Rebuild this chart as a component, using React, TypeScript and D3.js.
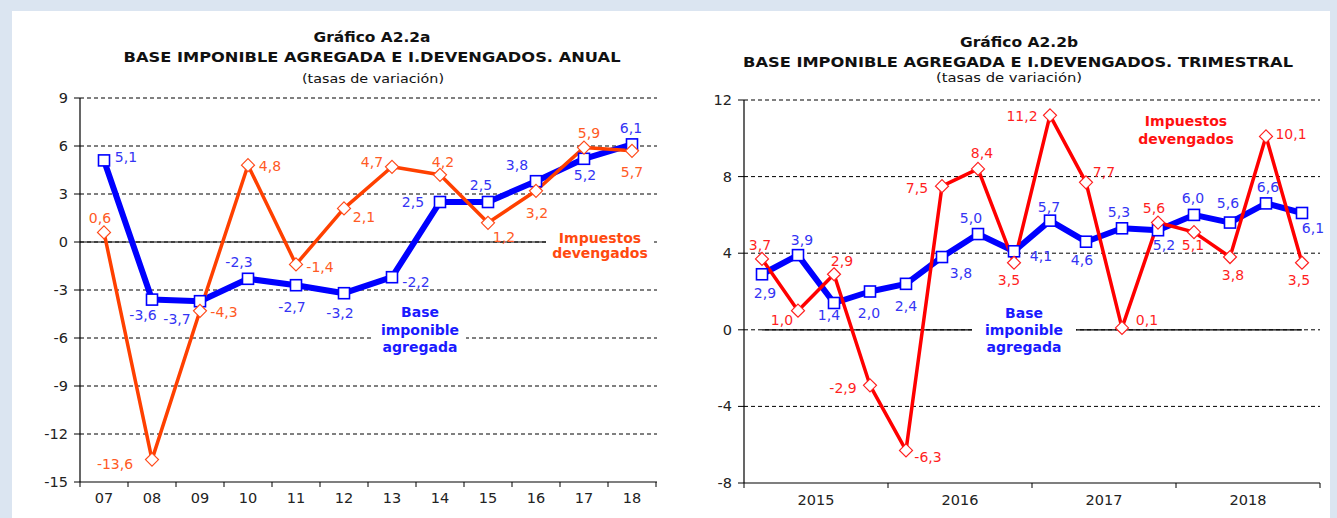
import React from 'react';
import * as d3 from 'd3';

// ---------- DATA ----------
const annualCats = ['07', '08', '09', '10', '11', '12', '13', '14', '15', '16', '17', '18'];
const annualBase = [5.1, -3.6, -3.7, -2.3, -2.7, -3.2, -2.2, 2.5, 2.5, 3.8, 5.2, 6.1];
const annualImp = [0.6, -13.6, -4.3, 4.8, -1.4, 2.1, 4.7, 4.2, 1.2, 3.2, 5.9, 5.7];
const annualTicks = [9, 6, 3, 0, -3, -6, -9, -12, -15];

const quarterYears = ['2015', '2016', '2017', '2018'];
const quarterBase = [2.9, 3.9, 1.4, 2.0, 2.4, 3.8, 5.0, 4.1, 5.7, 4.6, 5.3, 5.2, 6.0, 5.6, 6.6, 6.1];
const quarterImp = [3.7, 1.0, 2.9, -2.9, -6.3, 7.5, 8.4, 3.5, 11.2, 7.7, 0.1, 5.6, 5.1, 3.8, 10.1, 3.5];
const quarterTicks = [12, 8, 4, 0, -4, -8];

// label offsets (relative to each point) for the value labels
const annualBaseLbl = [[22, -3], [-9, 15], [-23, 18], [-9, -17], [-4, 22], [-4, 20], [24, 5], [-27, 0], [-7, -17], [-19, -16], [1, 16], [-1, -16]];
const annualImpLbl = [[-4, -14], [-37, 4], [24, 1], [22, 1], [24, 3], [20, 9], [-20, -5], [3, -13], [16, 14], [1, 22], [5, -15], [0, 21]];
const quarterBaseLbl = [[3, 19], [4, -15], [-5, 12], [-1, 21], [0, 22], [19, 16], [-7, -16], [27, 5], [-1, -14], [-4, 18], [-3, -16], [6, 15], [-1, -17], [-2, -20], [2, -16], [11, 15]];
const quarterImpLbl = [[-2, -14], [-16, 9], [8, -13], [-27, 3], [22, 7], [-25, 2], [4, -16], [-5, 17], [-28, 1], [18, -10], [25, -8], [-4, -15], [-1, 13], [3, 18], [25, -2], [-3, 17]];

const quarterCats = quarterYears.flatMap((y) => ['T1', 'T2', 'T3', 'T4'].map((q) => `${y}${q}`));

const FONT = "'DejaVu Sans', Verdana, sans-serif";
const fmt = (v: number) => v.toFixed(1).replace('.', ',');

function App() {
  // ---------- LEFT (annual) ----------
  const xL = d3.scaleBand<string>().domain(annualCats).range([80, 656]);
  const yL = d3.scaleLinear().domain([-15, 9]).range([482, 98]);
  // ---------- RIGHT (quarterly) ----------
  const xR = d3.scaleBand<string>().domain(quarterCats).range([744, 1320]);
  const xRY = d3.scaleBand<string>().domain(quarterYears).range([744, 1320]);
  const yR = d3.scaleLinear().domain([-8, 12]).range([483, 100]);

  const blue = '#0000ff';
  const blueText = '#3434f4';

  const renderSeries = (
    cats: string[], xs: d3.ScaleBand<string>, y: d3.ScaleLinear<number, number>,
    values: number[], lbl: number[][], color: string, textColor: string,
    width: number, marker: 'square' | 'diamond', part: 'line' | 'markers' | 'labels', key: string
  ) => {
    const cx = (i: number) => (xs(cats[i]) as number) + xs.bandwidth() / 2;
    if (part === 'line') {
      const line = d3.line<number>().x((_, i) => cx(i)).y((v) => y(v));
      return <path key={key} d={line(values) || ''} fill="none" stroke={color} strokeWidth={width} strokeLinejoin="round" />;
    }
    if (part === 'markers') {
      return (
        <g key={key}>
          {values.map((v, i) => {
            const px = cx(i), py = y(v);
            if (marker === 'square') {
              return <rect key={i} x={px - 5.5} y={py - 5.5} width={11} height={11} fill="#fff" stroke={color} strokeWidth={1.6} />;
            }
            const s = 6.5;
            return <path key={i} d={`M${px},${py - s}L${px + s},${py}L${px},${py + s}L${px - s},${py}Z`} fill="#fff" stroke={color} strokeWidth={1.2} />;
          })}
        </g>
      );
    }
    return (
      <g key={key} fontFamily={FONT} fontSize={14} fill={textColor}>
        {values.map((v, i) => (
          <text key={i} x={cx(i) + lbl[i][0]} y={y(v) + lbl[i][1]} textAnchor="middle" dominantBaseline="central">
            {fmt(v)}
          </text>
        ))}
      </g>
    );
  };

  const yAxis = (y: d3.ScaleLinear<number, number>, ticks: number[], ax: number, right: number, key: string) => (
    <g key={key}>
      {ticks.map((t) => (
        <g key={t}>
          {t !== ticks[ticks.length - 1] && (
            <line x1={ax} x2={right} y1={y(t)} y2={y(t)} stroke="#000" strokeWidth={1} strokeDasharray="4,3" />
          )}
          <line x1={ax - 6} x2={ax} y1={y(t)} y2={y(t)} stroke="#000" strokeWidth={1} />
          <text x={ax - 12} y={y(t)} textAnchor="end" dominantBaseline="central" fontFamily={FONT} fontSize={14.5} fill="#222">
            {t}
          </text>
        </g>
      ))}
    </g>
  );

  const leftBottom = yL(-15);
  const rightBottom = yR(-8);

  return (
    <div style={{ position: 'absolute', left: 0, top: 0 }}>
      <svg width={1337} height={518} style={{ display: 'block' }}>
        <rect x={0} y={0} width={1337} height={518} fill="#dbe5f1" />
        <rect x={12} y={11} width={1318} height={507} fill="#ffffff" />

        {/* ---------- LEFT TITLES ---------- */}
        <g fontFamily={FONT} fill="#111" textAnchor="middle">
          <text x={372} y={42} fontWeight="bold" fontSize={14} textLength={117} lengthAdjust="spacingAndGlyphs">Gráfico A2.2a</text>
          <text x={372} y={62} fontWeight="bold" fontSize={14} textLength={497} lengthAdjust="spacingAndGlyphs">BASE IMPONIBLE AGREGADA E I.DEVENGADOS. ANUAL</text>
          <text x={373} y={83} fontSize={13} textLength={142} lengthAdjust="spacingAndGlyphs">(tasas de variación)</text>
        </g>

        {/* ---------- LEFT CHART ---------- */}
        {yAxis(yL, annualTicks, 80, 657, 'yl')}
        <line x1={80} x2={632} y1={yL(0)} y2={yL(0)} stroke="#000" strokeWidth={1.2} />
        <line x1={80} x2={80} y1={yL(9)} y2={leftBottom} stroke="#000" strokeWidth={1.2} />
        <line x1={80} x2={657} y1={leftBottom} y2={leftBottom} stroke="#000" strokeWidth={1.2} />
        {annualCats.map((c) => (
          <line key={'tk' + c} x1={(xL(c) as number) + xL.bandwidth()} x2={(xL(c) as number) + xL.bandwidth()} y1={leftBottom} y2={leftBottom + 5} stroke="#000" />
        ))}
        <line x1={80} x2={80} y1={leftBottom} y2={leftBottom + 5} stroke="#000" />
        {annualCats.map((c) => (
          <text key={'xl' + c} x={(xL(c) as number) + xL.bandwidth() / 2} y={498} textAnchor="middle" dominantBaseline="central" fontFamily={FONT} fontSize={14.5} fill="#222">{c}</text>
        ))}

        {/* label backgrounds */}
        <rect x={546} y={228} width={108} height={34} fill="#fff" />
        <rect x={372} y={320} width={94} height={34} fill="#fff" />

        {renderSeries(annualCats, xL, yL, annualBase, annualBaseLbl, blue, blueText, 6, 'square', 'line', 'lb')}
        {renderSeries(annualCats, xL, yL, annualImp, annualImpLbl, '#ff4000', '#ff5a24', 3.5, 'diamond', 'line', 'li')}
        {renderSeries(annualCats, xL, yL, annualBase, annualBaseLbl, blue, blueText, 6, 'square', 'markers', 'mb')}
        {renderSeries(annualCats, xL, yL, annualImp, annualImpLbl, '#ff4a1a', '#ff5a24', 3.5, 'diamond', 'markers', 'mi')}
        {renderSeries(annualCats, xL, yL, annualBase, annualBaseLbl, blue, blueText, 6, 'square', 'labels', 'tb')}
        {renderSeries(annualCats, xL, yL, annualImp, annualImpLbl, '#ff4000', '#ff5a24', 3.5, 'diamond', 'labels', 'ti')}

        <g fontFamily={FONT} fontWeight="bold" fontSize={14} textAnchor="middle">
          <text x={600} y={238} fill="#ff4a10" dominantBaseline="central">Impuestos</text>
          <text x={600} y={253} fill="#ff4a10" dominantBaseline="central">devengados</text>
          <text x={420} y={312} fill="#1a1aff" dominantBaseline="central">Base</text>
          <text x={420} y={330} fill="#1a1aff" dominantBaseline="central">imponible</text>
          <text x={420} y={347} fill="#1a1aff" dominantBaseline="central">agregada</text>
        </g>

        {/* ---------- RIGHT TITLES ---------- */}
        <g fontFamily={FONT} fill="#111" textAnchor="middle">
          <text x={1019} y={47} fontWeight="bold" fontSize={14} textLength={118} lengthAdjust="spacingAndGlyphs">Gráfico A2.2b</text>
          <text x={1018} y={67} fontWeight="bold" fontSize={14} textLength={550} lengthAdjust="spacingAndGlyphs">BASE IMPONIBLE AGREGADA E I.DEVENGADOS. TRIMESTRAL</text>
          <text x={1009} y={82} fontSize={13} textLength={146} lengthAdjust="spacingAndGlyphs">(tasas de variación)</text>
        </g>

        {/* ---------- RIGHT CHART ---------- */}
        {yAxis(yR, quarterTicks, 744, 1320, 'yr')}
        <line x1={(xR(quarterCats[0]) as number) + xR.bandwidth() / 2} x2={(xR(quarterCats[15]) as number) + xR.bandwidth() / 2} y1={yR(0)} y2={yR(0)} stroke="#000" strokeWidth={1.2} />
        <line x1={744} x2={744} y1={yR(12)} y2={rightBottom} stroke="#000" strokeWidth={1.2} />
        <line x1={744} x2={1320} y1={rightBottom} y2={rightBottom} stroke="#000" strokeWidth={1.2} />
        <line x1={744} x2={744} y1={rightBottom} y2={rightBottom + 5} stroke="#000" />
        {quarterYears.map((yv) => (
          <g key={'ry' + yv}>
            <line x1={(xRY(yv) as number) + xRY.bandwidth()} x2={(xRY(yv) as number) + xRY.bandwidth()} y1={rightBottom} y2={rightBottom + 5} stroke="#000" />
            <text x={(xRY(yv) as number) + xRY.bandwidth() / 2} y={500} textAnchor="middle" dominantBaseline="central" fontFamily={FONT} fontSize={14.5} fill="#222">{yv}</text>
          </g>
        ))}

        <rect x={972} y={303} width={104} height={52} fill="#fff" />

        {renderSeries(quarterCats, xR, yR, quarterBase, quarterBaseLbl, blue, blueText, 6, 'square', 'line', 'rlb')}
        {renderSeries(quarterCats, xR, yR, quarterImp, quarterImpLbl, '#ff0000', '#ff1f1f', 3.5, 'diamond', 'line', 'rli')}
        {renderSeries(quarterCats, xR, yR, quarterBase, quarterBaseLbl, blue, blueText, 6, 'square', 'markers', 'rmb')}
        {renderSeries(quarterCats, xR, yR, quarterImp, quarterImpLbl, '#ff2020', '#ff1f1f', 3.5, 'diamond', 'markers', 'rmi')}
        {renderSeries(quarterCats, xR, yR, quarterBase, quarterBaseLbl, blue, blueText, 6, 'square', 'labels', 'rtb')}
        {renderSeries(quarterCats, xR, yR, quarterImp, quarterImpLbl, '#ff0000', '#ff1f1f', 3.5, 'diamond', 'labels', 'rti')}

        <g fontFamily={FONT} fontWeight="bold" fontSize={14} textAnchor="middle">
          <text x={1186} y={121} fill="#ff1010" dominantBaseline="central">Impuestos</text>
          <text x={1186} y={139} fill="#ff1010" dominantBaseline="central">devengados</text>
          <text x={1024} y={313} fill="#1a1aff" dominantBaseline="central">Base</text>
          <text x={1024} y={330} fill="#1a1aff" dominantBaseline="central">imponible</text>
          <text x={1024} y={347} fill="#1a1aff" dominantBaseline="central">agregada</text>
        </g>
      </svg>
    </div>
  );
}

export default App;
